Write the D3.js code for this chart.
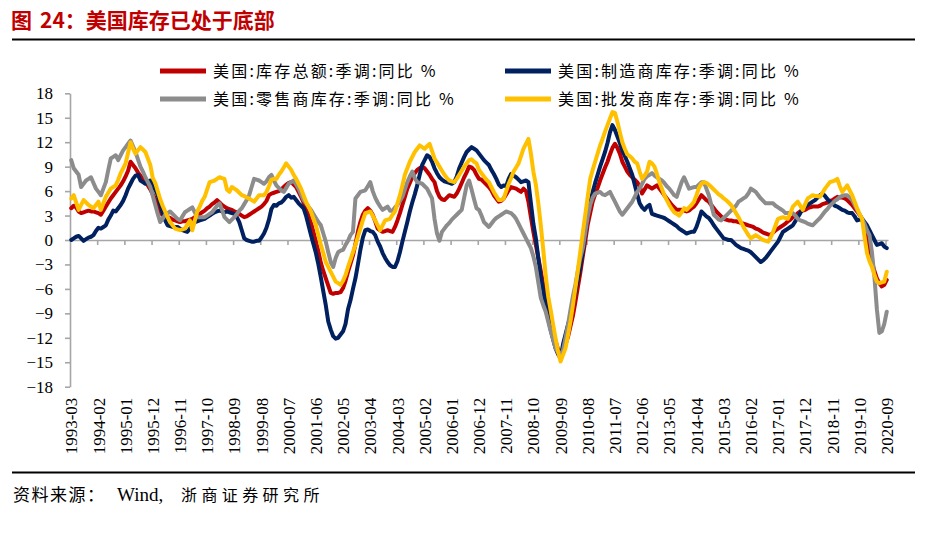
<!DOCTYPE html>
<html><head><meta charset="utf-8">
<script src="https://cdn.jsdelivr.net/npm/d3@7"></script>
<style>
html,body{margin:0;padding:0;background:#fff;}
svg{display:block;}
</style></head>
<body>
<svg id="chart" width="926" height="542"></svg>
<script>
// ---- data (monthly, 1993-03 .. 2020-09) ----
const startMonth = "1993-03";
const endMonth = "2020-09";
const seriesNames = ["美国:库存总额:季调:同比 %","美国:制造商库存:季调:同比 %","美国:零售商库存:季调:同比 %","美国:批发商库存:季调:同比 %"];
const seriesColors = ["#C00000","#002060","#8C8C8C","#FFC000"];
const yTicks = [-18,-15,-12,-9,-6,-3,0,3,6,9,12,15,18];
const xTickLabels = ["1993-03","1994-02","1995-01","1995-12","1996-11","1997-10","1998-09","1999-08","2000-07","2001-06","2002-05","2003-04","2004-03","2005-02","2006-01","2006-12","2007-11","2008-10","2009-09","2010-08","2011-07","2012-06","2013-05","2014-04","2015-03","2016-02","2017-01","2017-12","2018-11","2019-10","2020-09"];

const totalInv = [
3.9,4.2,4.0,3.5,3.3,3.4,3.5,3.6,3.5,3.5,
3.4,3.3,3.1,3.6,4.1,4.6,5.1,5.5,5.9,6.3,6.7,7.2,
7.8,8.5,9.6,9.2,8.8,8.3,7.9,7.5,7.1,6.7,6.2,5.6,
5.0,4.1,3.3,3.1,2.9,2.8,2.7,2.5,2.4,2.3,2.2,2.3,
2.3,2.4,2.5,2.6,2.8,3.0,3.2,3.4,3.6,3.9,4.1,4.4,
4.6,4.9,4.6,4.3,4.1,3.9,3.8,3.7,3.5,3.4,3.2,3.0,
2.8,2.9,3.1,3.3,3.5,3.7,3.9,4.1,4.4,4.8,5.5,5.7,
5.8,5.9,6.0,6.2,6.5,6.8,7.0,7.1,6.8,6.5,5.9,5.3,
4.6,3.8,3.0,2.1,1.0,-0.2,-1.4,-2.8,-3.8,-4.7,-5.6,-6.5,
-6.6,-6.5,-6.5,-6.4,-5.9,-5.0,-3.9,-2.9,-1.9,-0.5,1.0,2.2,
3.1,3.6,3.9,3.6,3.1,2.3,1.4,1.2,1.0,1.1,1.2,1.1,
1.0,1.6,2.4,3.3,4.3,5.3,6.3,7.0,7.7,8.2,8.6,8.8,
9.0,8.8,8.4,8.0,7.5,7.1,6.0,5.3,5.0,4.9,5.2,5.5,
5.4,5.3,5.7,6.3,7.0,7.7,8.3,9.0,8.9,8.6,8.0,7.5,
7.4,7.1,6.8,6.5,6.1,5.5,5.1,4.7,4.8,5.1,5.6,6.1,
6.5,6.4,6.3,6.1,5.9,6.3,6.0,4.7,2.8,1.0,-0.6,-2.2,
-3.8,-5.5,-7.1,-8.5,-10.1,-11.4,-12.4,-13.4,-14.0,-13.6,-12.8,-11.9,
-10.6,-9.3,-7.6,-5.8,-4.0,-2.0,-0.1,1.9,3.3,4.7,5.6,6.4,
7.3,8.1,8.9,9.6,10.5,11.3,11.8,11.3,10.6,9.6,9.0,8.4,
8.0,7.7,7.4,7.1,6.6,5.7,6.2,6.7,6.5,6.3,6.5,6.7,
6.3,5.9,5.5,5.1,4.7,4.3,4.0,3.7,3.7,3.7,3.6,3.5,
3.6,3.9,4.1,4.5,5.0,5.5,5.2,4.9,4.7,4.3,3.9,3.5,
3.2,2.9,2.6,2.5,2.4,2.4,2.3,2.3,2.2,2.1,2.0,1.9,
1.8,1.7,1.6,1.4,1.3,1.1,0.9,0.8,0.7,0.6,0.9,1.2,
1.4,1.6,1.8,2.0,2.3,2.5,2.8,3.0,3.3,3.5,3.6,3.7,
3.9,4.0,4.1,4.1,4.1,4.2,4.4,4.5,4.6,4.8,4.9,5.1,
5.3,5.2,5.2,5.1,4.9,4.6,4.3,3.9,3.5,3.1,2.6,1.4,
0.2,-1.2,-2.7,-3.8,-4.7,-5.3,-5.7,-5.5,-4.9];

const mfgInv = [
0.0,0.2,0.4,0.5,0.2,-0.1,0.1,0.3,0.4,0.6,
1.1,1.5,1.4,1.6,1.8,2.5,3.0,3.6,3.5,3.9,4.3,4.8,
5.5,6.3,6.9,7.5,7.9,8.0,7.3,7.1,6.9,7.1,7.3,6.5,
6.2,5.5,4.4,3.3,2.4,1.8,1.7,1.6,1.6,1.6,1.4,1.2,
1.1,1.0,1.4,1.8,2.2,2.3,2.4,2.5,2.6,2.8,3.0,3.2,
3.4,3.5,3.6,3.5,3.4,3.5,3.4,3.3,3.2,2.8,2.2,1.2,
0.2,0.0,-0.1,-0.2,-0.2,-0.1,-0.1,0.3,0.8,1.5,2.5,3.8,
4.3,4.2,4.5,4.6,4.9,5.3,5.5,5.2,5.3,4.9,4.5,4.2,
3.9,3.0,1.8,0.6,-0.5,-1.6,-3.0,-4.6,-6.3,-8.0,-10.0,-11.0,
-11.8,-12.1,-12.0,-11.6,-11.2,-10.3,-8.5,-7.4,-6.0,-4.7,-3.0,-1.2,
0.3,1.2,1.3,1.1,1.0,0.6,-0.2,-0.8,-1.6,-2.2,-2.7,-3.1,
-3.3,-3.3,-2.6,-1.5,-0.2,1.0,2.2,3.5,4.6,5.6,6.7,8.0,
9.2,9.8,10.4,10.2,9.6,8.8,8.2,7.7,7.4,7.2,7.1,7.0,
6.9,7.1,7.8,8.8,9.5,10.2,10.8,11.1,11.4,11.2,11.0,10.6,
10.2,9.8,9.5,9.2,8.6,8.1,7.5,6.8,6.5,6.7,6.6,7.5,
8.1,7.9,7.7,7.4,7.1,7.2,7.3,7.1,4.5,2.0,0.2,-2.2,
-4.5,-6.2,-8.0,-9.6,-11.0,-12.2,-13.3,-14.0,-14.5,-12.8,-11.6,-10.4,
-9.4,-7.9,-6.3,-4.8,-3.3,-1.5,0.7,3.1,4.5,5.9,7.0,8.0,
9.0,9.9,10.8,11.9,13.2,14.1,13.5,12.7,11.9,11.0,10.3,9.6,
8.8,8.0,6.8,5.6,4.5,4.0,3.7,4.1,4.3,3.2,3.1,3.0,
2.9,2.8,2.7,2.5,2.3,2.1,1.9,1.7,1.4,1.2,1.0,0.8,
0.9,1.0,1.0,1.6,2.5,3.5,3.2,2.9,2.7,2.3,1.8,1.4,
1.0,0.6,0.2,0.1,0.0,0.0,-0.3,-0.6,-0.8,-1.0,-1.1,-1.2,
-1.3,-1.5,-1.8,-2.1,-2.4,-2.7,-2.5,-2.2,-1.8,-1.4,-1.0,-0.6,
-0.2,0.4,1.0,1.2,1.4,1.6,1.8,2.3,2.8,3.3,3.9,4.1,
4.3,4.5,4.7,4.9,5.2,5.5,5.7,5.4,5.0,4.7,4.5,4.2,
4.1,3.9,3.7,3.6,3.4,3.3,3.3,2.9,2.4,2.5,2.6,2.2,
1.8,1.2,0.6,0.0,-0.6,-0.5,-0.4,-0.8,-1.0];

const retailInv = [
9.8,8.8,8.4,8.0,6.5,6.9,7.3,7.5,7.7,7.0,
6.3,5.9,5.5,6.3,7.1,8.6,10.0,10.2,10.4,9.8,10.4,11.0,
11.4,11.8,12.2,11.5,10.8,9.9,9.0,8.4,7.7,7.1,6.5,5.4,
4.3,3.2,2.2,2.6,3.1,3.3,3.5,3.2,2.9,2.6,2.4,2.9,
3.4,3.6,3.8,4.0,3.4,2.8,2.8,2.8,2.8,3.0,3.2,3.4,
3.8,4.2,4.5,3.7,2.8,2.5,2.2,2.5,2.8,3.2,3.6,3.9,
4.4,4.9,5.5,6.5,7.5,7.4,7.3,7.1,6.9,7.2,7.7,8.0,
7.3,6.7,6.4,6.1,5.9,6.4,6.9,7.1,7.3,6.8,6.3,5.6,
4.9,4.5,4.1,3.7,3.2,2.7,2.2,1.8,0.8,-0.2,-1.5,-2.7,
-3.3,-2.2,-1.5,-1.3,-1.2,-0.6,-0.1,0.6,1.0,5.1,5.5,5.9,
6.0,6.1,6.6,7.1,6.0,5.2,4.6,4.1,3.7,3.9,4.1,3.6,
3.6,4.0,4.3,4.8,5.3,6.2,7.1,7.8,8.4,7.6,7.1,7.0,
6.9,6.6,6.3,5.7,5.1,2.6,0.8,-0.1,1.0,1.4,1.8,2.1,
2.5,2.8,3.1,3.4,3.7,5.2,6.7,7.3,6.2,5.0,3.9,3.7,
3.0,2.2,1.9,1.6,2.0,2.4,2.7,2.9,3.1,3.3,3.5,3.4,
3.3,3.0,2.6,2.0,1.4,0.8,0.2,-0.4,-1.0,-2.0,-3.3,-5.2,
-7.1,-8.0,-8.8,-10.0,-11.2,-12.2,-13.3,-13.8,-14.1,-13.5,-12.0,-10.4,
-8.6,-6.9,-5.5,-3.8,-2.2,-1.0,0.9,2.9,4.3,5.2,5.7,5.8,
5.9,5.6,5.5,5.7,5.9,5.3,4.7,4.1,3.5,3.1,3.5,3.9,
4.3,4.7,5.3,5.9,6.3,6.9,7.5,7.8,8.0,8.2,7.9,7.7,
7.5,7.3,7.0,6.6,6.3,5.9,5.5,5.3,6.2,7.1,7.7,7.0,
6.3,6.4,6.5,6.5,6.8,7.1,7.1,6.3,5.5,4.3,3.1,2.8,
2.5,2.4,2.7,3.0,3.3,3.6,3.9,4.2,4.7,4.9,5.1,5.3,
5.7,6.3,6.1,5.9,5.5,5.1,4.8,4.5,4.5,4.5,4.5,4.2,
4.0,3.8,3.6,3.3,3.3,3.3,3.3,3.0,2.6,2.4,2.3,2.2,
2.0,1.9,1.8,2.1,2.4,2.7,3.1,3.5,3.8,4.2,4.5,4.8,
5.0,5.3,5.4,5.5,5.5,5.2,4.9,4.3,3.7,3.1,2.6,2.0,
1.2,0.6,-1.5,-4.5,-8.5,-11.4,-11.2,-10.3,-8.8];

const wholesaleInv = [
5.1,5.5,4.6,3.7,4.3,4.9,4.6,4.3,4.1,3.9,
4.3,4.7,3.7,4.5,5.3,5.8,6.3,6.5,6.7,7.4,8.2,8.8,
9.4,10.7,12.0,11.2,10.6,11.0,11.4,11.1,10.8,10.0,9.2,7.6,
7.0,6.0,5.0,4.2,3.5,2.8,2.2,1.8,1.4,1.3,1.2,1.3,
1.4,1.9,2.4,1.2,2.4,3.5,4.1,4.8,5.3,6.2,7.1,7.2,
7.3,7.5,7.7,7.6,7.5,6.2,5.9,6.5,6.3,6.1,5.8,5.5,
5.4,5.2,5.1,4.9,4.7,5.1,5.5,5.5,5.5,5.9,6.6,7.4,
7.5,7.5,8.0,8.4,8.9,9.4,9.0,8.6,8.0,7.5,6.9,6.3,
5.5,4.7,4.1,3.5,2.6,1.8,0.6,-0.6,-1.6,-2.7,-3.3,-3.9,
-4.5,-5.1,-5.3,-5.5,-5.0,-4.3,-3.3,-2.4,-1.5,-0.6,0.4,1.4,
2.4,3.3,3.4,3.5,3.0,2.4,1.8,1.2,1.8,2.4,2.5,2.6,
3.1,3.5,4.5,5.5,6.7,8.0,8.8,9.6,10.2,10.8,11.2,11.6,
11.4,11.2,11.5,11.8,10.9,10.0,9.5,9.0,8.5,8.0,7.6,7.3,
7.2,7.1,7.5,8.0,8.5,9.0,9.4,9.8,9.9,9.6,9.4,8.6,
8.2,7.8,7.4,7.1,6.5,5.9,5.4,4.9,4.9,5.1,6.0,6.9,
7.6,8.4,8.9,9.4,10.3,11.2,11.8,12.4,10.6,8.4,6.8,4.5,
1.8,-1.2,-4.4,-6.9,-8.6,-10.4,-12.1,-13.7,-14.9,-14.1,-13.3,-11.7,
-10.0,-8.0,-5.9,-3.7,-1.4,0.9,3.1,5.3,7.5,8.6,9.6,10.6,
11.6,12.4,13.3,14.1,14.9,15.7,15.6,14.5,13.2,12.0,11.2,10.5,
10.3,10.0,9.6,9.4,8.4,7.5,7.9,8.4,9.6,9.4,9.0,8.1,
7.1,6.3,5.5,4.9,4.3,3.8,3.4,3.2,3.0,3.4,3.9,3.7,
4.0,4.3,4.7,5.5,6.4,6.9,7.1,7.0,6.8,6.5,6.2,5.9,
5.6,5.4,5.1,4.9,4.6,4.3,3.8,3.3,2.8,2.2,1.6,1.1,
0.6,0.2,0.4,0.6,0.4,0.2,0.0,-0.1,-0.2,0.3,1.0,1.8,
2.6,2.7,2.8,2.7,2.6,3.3,4.1,4.4,4.7,4.2,3.7,4.4,
5.1,5.3,5.5,5.4,5.4,5.3,5.8,6.3,6.7,7.1,7.2,7.3,
7.5,6.6,5.9,6.3,6.7,6.1,5.5,4.7,3.9,3.2,2.6,0.4,
-1.6,-2.6,-3.3,-4.3,-5.1,-5.3,-5.2,-5.1,-3.9];

const seriesData = [totalInv, mfgInv, retailInv, wholesaleInv];

// ---- categories ----
const parseM = d3.timeParse("%Y-%m");
const fmtM = d3.timeFormat("%Y-%m");
const months = d3.timeMonth.range(parseM(startMonth), d3.timeMonth.offset(parseM(endMonth), 1)).map(fmtM);

// ---- layout ----
const svg = d3.select("#chart");
const plot = {left: 70, right: 888, top: 93.3, bottom: 386.7};

const x = d3.scaleBand().domain(months).range([plot.left, plot.right]).padding(0);
const xc = m => x(m) + x.bandwidth() / 2;
const y = d3.scaleLinear().domain([-18, 18]).range([plot.bottom, plot.top]);

// Title
const title = svg.append("text")
  .attr("x", 11).attr("y", 28)
  .attr("font-family", "'Noto Sans CJK SC', sans-serif")
  .attr("font-weight", "bold")
  .attr("font-size", 21)
  .attr("fill", "#C00000");
title.append("tspan").text("图");
title.append("tspan").attr("x", 40).text("24：美国库存已处于底部");

svg.append("line").attr("x1", 12).attr("x2", 915).attr("y1", 39.5).attr("y2", 39.5)
  .attr("stroke", "#000").attr("stroke-width", 2.2);
svg.append("line").attr("x1", 12).attr("x2", 915).attr("y1", 472.5).attr("y2", 472.5)
  .attr("stroke", "#000").attr("stroke-width", 2.2);

// Source
const src = svg.append("text")
  .attr("x", 13).attr("y", 501)
  .attr("font-family", "'Liberation Serif', 'Noto Sans CJK SC', serif")
  .attr("font-size", 17)
  .attr("fill", "#000");
src.append("tspan").attr("letter-spacing", 1.5).text("资料来源：");
src.append("tspan").attr("x", 117).attr("font-size", 19).text("Wind,");
src.append("tspan").attr("x", 181).attr("font-size", 16).attr("letter-spacing", 4.4).text("浙商证券研究所");

// Y axis
const yAxis = d3.axisLeft(y).tickValues(yTicks).tickSizeInner(5).tickSizeOuter(0).tickPadding(12).tickFormat(d3.format("d"));
const gy = svg.append("g").attr("transform", `translate(${plot.left},0)`).call(yAxis);
gy.select(".domain").attr("stroke", "#A6A6A6").attr("stroke-width", 1.6);
gy.selectAll(".tick line").attr("stroke", "#A6A6A6").attr("stroke-width", 1.6);
gy.selectAll(".tick text").attr("font-family", "'Liberation Serif', serif").attr("font-size", 17).attr("fill", "#000");

// X axis at zero (ticks at category boundaries every 11 months)
const xb = d3.scaleLinear().domain([0, months.length]).range([plot.left, plot.right]);
const tickIdx = d3.range(11, months.length, 11);
const xAxis = d3.axisBottom(xb).tickValues(tickIdx).tickSizeInner(5).tickSizeOuter(0).tickFormat("");
const gx = svg.append("g").attr("transform", `translate(0,${y(0)})`).call(xAxis);
gx.select(".domain").attr("stroke", "#A6A6A6").attr("stroke-width", 1.6);
gx.selectAll(".tick line").attr("stroke", "#A6A6A6").attr("stroke-width", 1.6);

// X labels (low position, rotated)
const xLab = d3.axisBottom(x).tickValues(xTickLabels).tickSize(0);
const gl = svg.append("g").attr("transform", `translate(0,${plot.bottom})`).call(xLab);
gl.select(".domain").remove();
gl.selectAll(".tick text")
  .attr("font-family", "'Liberation Serif', serif").attr("font-size", 17).attr("fill", "#000")
  .attr("text-anchor", "end")
  .attr("transform", "rotate(-90)")
  .attr("x", -11).attr("y", 0).attr("dy", "0.36em");

// Lines
const line = d3.line().x((d, i) => xc(months[i])).y(d => y(d)).curve(d3.curveLinear);
seriesData.forEach((s, k) => {
  svg.append("path").datum(s)
    .attr("fill", "none")
    .attr("stroke", seriesColors[k])
    .attr("stroke-width", 4)
    .attr("stroke-linejoin", "round")
    .attr("stroke-linecap", "round")
    .attr("d", line);
});

// Legend
const legendPos = [[160, 71], [505, 71], [160, 99], [505, 99]];
seriesNames.forEach((n, k) => {
  const [lx, ly] = legendPos[k];
  svg.append("line").attr("x1", lx).attr("x2", lx + 46).attr("y1", ly).attr("y2", ly)
    .attr("stroke", seriesColors[k]).attr("stroke-width", 5);
  svg.append("text").attr("x", lx + 53).attr("y", ly + 6)
    .attr("font-family", "'Noto Sans CJK SC', sans-serif")
    .attr("font-size", 16).attr("letter-spacing", 2.2).attr("fill", "#000")
    .text(n);
});
</script>
</body></html>
